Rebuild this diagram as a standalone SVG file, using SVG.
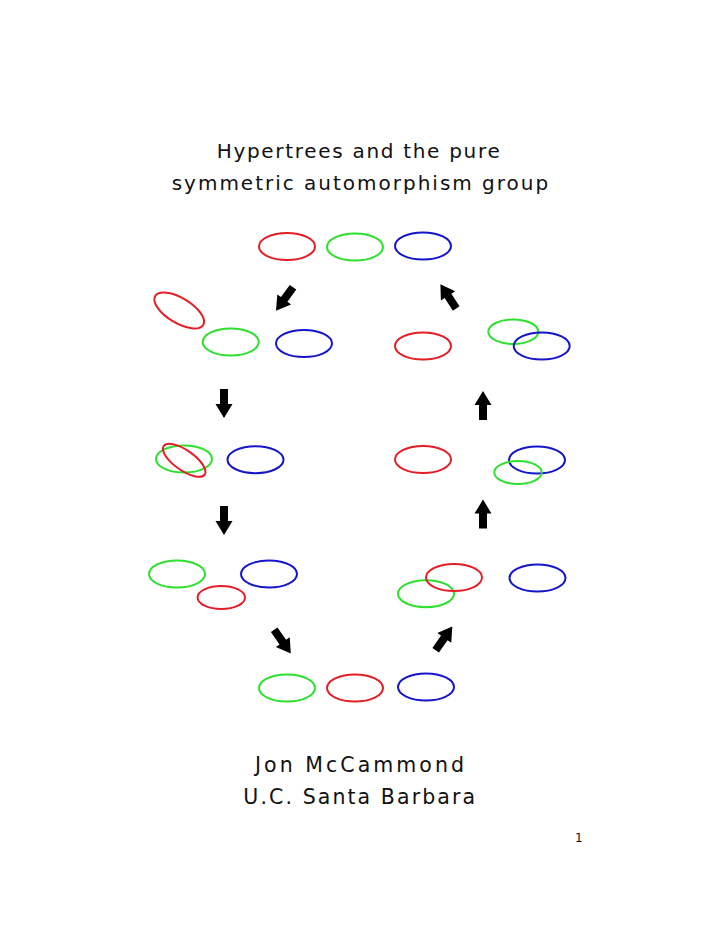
<svg xmlns="http://www.w3.org/2000/svg" width="720" height="932" viewBox="0 0 720 932">
<style>
  .t { font-family: "DejaVu Sans", "Liberation Sans", Arial, sans-serif; fill: #111; }
  .e { fill: none; stroke-width: 2; }
  .r { stroke: #e41e26; }
  .g { stroke: #2ee02e; }
  .b { stroke: #1515cc; }
  .a { fill: #000; }
</style>
<defs>
  <path id="arr" d="M -4 -14.5 L 4 -14.5 L 4 0.5 L 8.5 0.5 L 0 14.5 L -8.5 0.5 L -4 0.5 Z"/>
</defs>
<rect width="720" height="932" fill="#fff"/>
<g id="title">
  <text class="t" x="216.7" y="158.3" font-size="20" textLength="283" lengthAdjust="spacing">Hypertrees and the pure</text>
  <text class="t" x="171.7" y="190" font-size="20" textLength="376.5" lengthAdjust="spacing">symmetric automorphism group</text>
</g>
<g id="state-top">
  <ellipse class="e r" cx="287" cy="246.5" rx="28" ry="13.5"/>
  <ellipse class="e g" cx="355" cy="247" rx="28" ry="13.5"/>
  <ellipse class="e b" cx="423" cy="246" rx="28" ry="13.5"/>
</g>
<g id="state-left-1">
  <ellipse class="e r" cx="179.2" cy="310.5" rx="28" ry="12.5" transform="rotate(31 179.2 310.5)"/>
  <ellipse class="e g" cx="230.7" cy="342" rx="28" ry="13.5"/>
  <ellipse class="e b" cx="304" cy="343.5" rx="28" ry="13.5"/>
</g>
<g id="state-right-1">
  <ellipse class="e r" cx="423" cy="346" rx="28" ry="13.5"/>
  <ellipse class="e g" cx="513.3" cy="331.7" rx="25" ry="12.3"/>
  <ellipse class="e b" cx="541.7" cy="346" rx="28" ry="13.5"/>
</g>
<g id="state-left-2">
  <ellipse class="e g" cx="184" cy="459" rx="28" ry="13.5"/>
  <ellipse class="e r" cx="184.2" cy="460.3" rx="25" ry="10" transform="rotate(35 184.2 460.3)"/>
  <ellipse class="e b" cx="255.5" cy="459.7" rx="28" ry="13.5"/>
</g>
<g id="state-right-2">
  <ellipse class="e r" cx="423" cy="459.5" rx="28" ry="13.5"/>
  <ellipse class="e b" cx="537" cy="460" rx="28" ry="13.5"/>
  <ellipse class="e g" cx="518" cy="472.5" rx="23.7" ry="11.5"/>
</g>
<g id="state-left-3">
  <ellipse class="e g" cx="177" cy="574" rx="28" ry="13.5"/>
  <ellipse class="e r" cx="221.3" cy="597.5" rx="23.7" ry="11.5"/>
  <ellipse class="e b" cx="269" cy="574" rx="28" ry="13.5"/>
</g>
<g id="state-right-3">
  <ellipse class="e g" cx="426" cy="593.7" rx="28" ry="13.5"/>
  <ellipse class="e r" cx="454" cy="577.5" rx="28" ry="13.5"/>
  <ellipse class="e b" cx="537.5" cy="578" rx="28" ry="13.5"/>
</g>
<g id="state-bottom">
  <ellipse class="e g" cx="287" cy="688" rx="28" ry="13.5"/>
  <ellipse class="e r" cx="355" cy="688" rx="28" ry="13.5"/>
  <ellipse class="e b" cx="426" cy="687" rx="28" ry="13.5"/>
</g>
<g id="connectors" class="a">
  <use href="#arr" transform="translate(284.5 299) rotate(36)"/>
  <use href="#arr" transform="translate(224 403.5)"/>
  <use href="#arr" transform="translate(224 520.5)"/>
  <use href="#arr" transform="translate(282.5 641.7) rotate(-35)"/>
  <use href="#arr" transform="translate(444 638.3) rotate(215)"/>
  <use href="#arr" transform="translate(483 514) rotate(180)"/>
  <use href="#arr" transform="translate(483 405.5) rotate(180)"/>
  <use href="#arr" transform="translate(448.3 296.3) rotate(147)"/>
</g>
<g id="author">
  <text class="t" x="255" y="771.7" font-size="20.5" textLength="209" lengthAdjust="spacing">Jon McCammond</text>
  <text class="t" x="243.3" y="804.3" font-size="20.5" textLength="231.7" lengthAdjust="spacing">U.C. Santa Barbara</text>
  <text class="t" x="575" y="841.7" font-size="12">1</text>
</g>
</svg>
